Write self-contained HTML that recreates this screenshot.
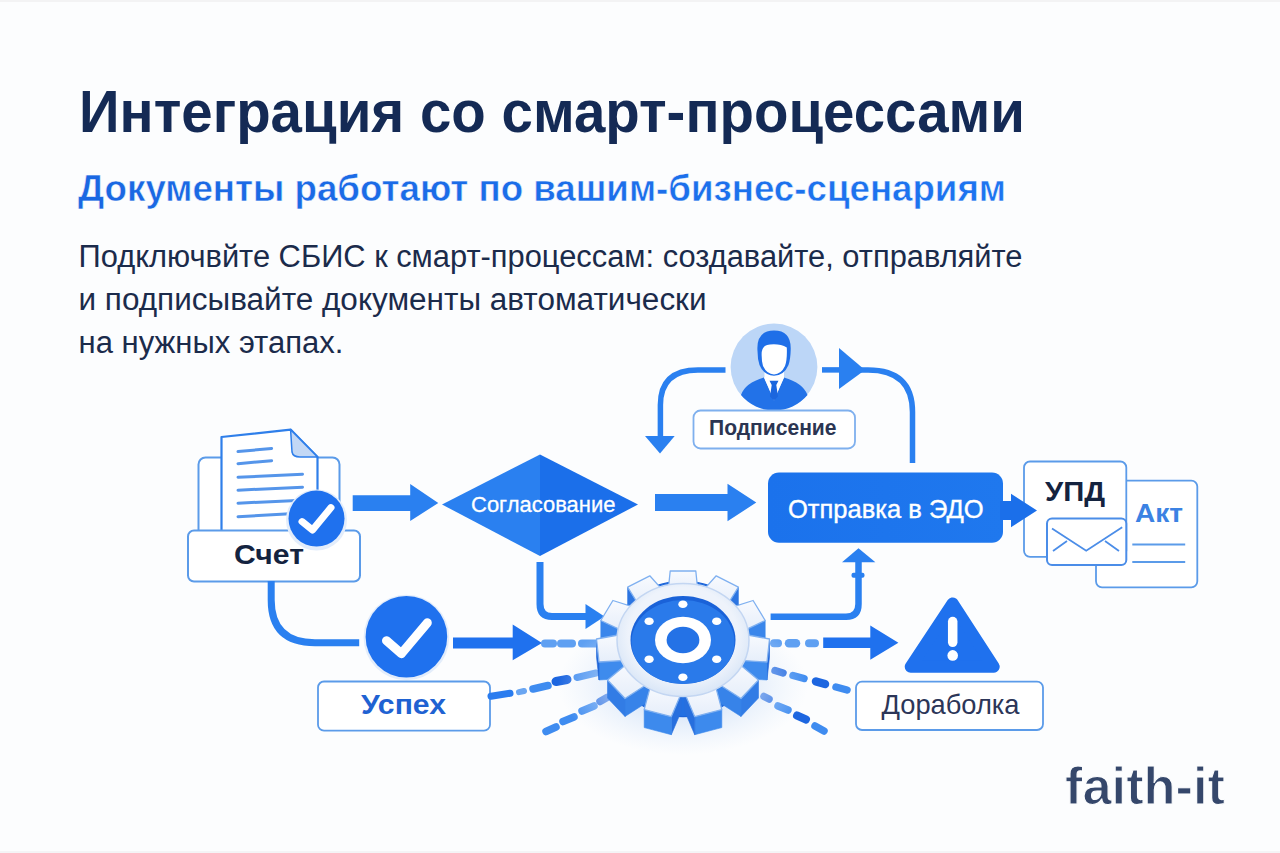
<!DOCTYPE html>
<html><head><meta charset="utf-8"><style>
html,body{margin:0;padding:0;background:#fcfdfe;}
svg{display:block;font-family:"Liberation Sans",sans-serif;}
</style></head><body>
<svg width="1280" height="853" viewBox="0 0 1280 853">
<rect width="1280" height="853" fill="#fcfdfe"/>
<rect width="1280" height="2" fill="#f3f3f4"/>
<rect y="851" width="1280" height="2" fill="#f4f4f6"/>
<defs>
<radialGradient id="glow" cx="50%" cy="50%" r="50%"><stop offset="0" stop-color="#c4d9f7" stop-opacity="1"/><stop offset="0.5" stop-color="#d6e5f9" stop-opacity="0.7"/><stop offset="1" stop-color="#e3edfb" stop-opacity="0"/></radialGradient>
<linearGradient id="sub" x1="0" x2="1"><stop offset="0" stop-color="#1a67e2"/><stop offset="1" stop-color="#1d74f0"/></linearGradient>
<linearGradient id="tooth" x1="0" y1="0" x2="0" y2="1"><stop offset="0" stop-color="#f8fafe"/><stop offset="1" stop-color="#e6eefa"/></linearGradient>
<radialGradient id="ring" cx="50%" cy="45%" r="55%"><stop offset="0.75" stop-color="#eef3fb"/><stop offset="1" stop-color="#d9e6f7"/></radialGradient>
<linearGradient id="edo" x1="0" x2="1"><stop offset="0" stop-color="#1b72ec"/><stop offset="1" stop-color="#1f78ee"/></linearGradient>
<filter id="sh" x="-30%" y="-30%" width="160%" height="160%"><feGaussianBlur stdDeviation="2.5"/></filter>
</defs>
<text x="79" y="131.7" font-size="59" font-weight="700" fill="#142a55" textLength="946" lengthAdjust="spacingAndGlyphs">Интеграция со смарт-процессами</text>
<text x="78" y="201.4" font-size="37" font-weight="700" fill="url(#sub)" stroke="#fcfdfe" stroke-width="0.5" textLength="928" lengthAdjust="spacingAndGlyphs">Документы работают по вашим-бизнес-сценариям</text>
<text x="78.5" y="266.8" font-size="31" fill="#1b2b4b" textLength="944" lengthAdjust="spacingAndGlyphs">Подключвйте СБИС к смарт-процессам: создавайте, отправляйте</text>
<text x="78.5" y="310" font-size="31" fill="#1b2b4b" textLength="628" lengthAdjust="spacingAndGlyphs">и подписывайте документы автоматически</text>
<text x="78.5" y="353.2" font-size="31" fill="#1b2b4b" textLength="265" lengthAdjust="spacingAndGlyphs">на нужных этапах.</text>
<rect x="198.5" y="457.5" width="141" height="90" rx="7" fill="#fff" stroke="#5b9be9" stroke-width="2"/>
<path d="M221.5 437 L290.6 429.6 L317.5 456.9 L317.5 535 L221.5 535 Z" fill="#fff" stroke="#2f7fea" stroke-width="2.2" stroke-linejoin="round"/>
<path d="M290.6 429.6 L292 452 Q293 457 300 457 L317.5 456.9 Z" fill="#c3d8f5" stroke="#2f7fea" stroke-width="1.5" stroke-linejoin="round"/>
<line x1="238" y1="451.5" x2="271.6" y2="448.5" stroke="#5595ea" stroke-width="3" stroke-linecap="round"/>
<line x1="238" y1="463.7" x2="271.6" y2="460.7" stroke="#5595ea" stroke-width="3" stroke-linecap="round"/>
<line x1="238" y1="477.3" x2="302.5" y2="474.3" stroke="#5595ea" stroke-width="3" stroke-linecap="round"/>
<line x1="238" y1="490.2" x2="302.5" y2="487.2" stroke="#5595ea" stroke-width="3" stroke-linecap="round"/>
<line x1="238" y1="503.2" x2="302.5" y2="500.2" stroke="#5595ea" stroke-width="3" stroke-linecap="round"/>
<line x1="238" y1="516.7" x2="290" y2="513.7" stroke="#5595ea" stroke-width="3" stroke-linecap="round"/>
<rect x="188" y="530.5" width="172" height="51" rx="6" fill="#fff" stroke="#5b9be9" stroke-width="2"/>
<text x="234" y="564.4" font-size="28" font-weight="700" fill="#14233f" textLength="70" lengthAdjust="spacingAndGlyphs">Счет</text>
<circle cx="316.5" cy="520" r="30.5" fill="#e3edfb"/>
<circle cx="316.5" cy="518.6" r="28" fill="#1f71ee"/>
<path d="M302 521.6 L312.5 530 L331 507.6" fill="none" stroke="#fff" stroke-width="7" stroke-linecap="round" stroke-linejoin="round"/>
<path d="M352.7 495.2 L410.2 495.2 L410.2 483.9 L438.3 503 L410.2 521 L410.2 510.9 L352.7 510.9 Z" fill="#2a80f0"/>
<path d="M442 504.5 L540 454.5 L540 556 Z" fill="#2a80f0"/>
<path d="M540 454.5 L638 504.5 L540 556 Z" fill="#1b6fea"/>
<text x="471" y="511.8" font-size="22" font-weight="400" fill="#fff" stroke="#fff" stroke-width="0.3" textLength="144.5" lengthAdjust="spacingAndGlyphs">Согласование</text>
<path d="M655 494 L727.5 494 L727.5 483.7 L756.3 502.5 L727.5 521.3 L727.5 511 L655 511 Z" fill="#2a80f0"/>
<rect x="768" y="472.5" width="235" height="70.3" rx="11" fill="url(#edo)"/>
<text x="788" y="518" font-size="26" fill="#fff" stroke="#fff" stroke-width="0.4" textLength="195.5" lengthAdjust="spacingAndGlyphs">Отправка в ЭДО</text>
<circle cx="774" cy="367" r="43.4" fill="#bcd6f7"/>
<rect x="764.5" y="369" width="19.5" height="12" fill="#fff"/>
<path d="M741 395 Q745 383 764 377.5 L774 400 L784 377.5 Q803 383 807.5 395 A43.4 43.4 0 0 1 741 395 Z" fill="#2272e8"/>
<path d="M764 377.5 L774 400.5 L784 377.5 L781 376 L774 381 L767 376 Z" fill="#fff"/>
<path d="M769.5 380.7 L778.5 380.7 L776.3 385 L778 396.5 L774 400.5 L770 396.5 L771.7 385 Z" fill="#1b66de"/>
<path d="M757.5 351 Q756 330.6 774 330.6 Q791.5 330.6 790.7 350 Q790.5 359 788.5 365 Q784 375.5 774 375.8 Q764 375.5 759.5 365 Q757.5 359 757.5 351 Z" fill="#1f6fe8"/>
<path d="M761.7 352 Q763 344.5 770 344.5 Q780 343.5 786.8 347.5 Q787.3 360 785 366 Q781 374.4 774 374.4 Q767 374.4 763 366 Q761.3 360 761.7 352 Z" fill="#fff"/>
<path d="M725.5 369.9 L698 369.9 Q660.4 369.9 660.4 405 L660.4 438" fill="none" stroke="#2a80f0" stroke-width="5.5"/>
<path d="M645 436 L674.7 436 L660 453.6 Z" fill="#2a80f0"/>
<path d="M822 369.9 L845 369.9" stroke="#2a80f0" stroke-width="5.5"/>
<path d="M839 348 L865 369.9 L839 389 Z" fill="#2a80f0"/>
<path d="M860 369.9 L868 369.9 Q912.5 369.9 912.5 412 L912.5 463" fill="none" stroke="#2a80f0" stroke-width="5.5"/>
<rect x="693.5" y="410.5" width="161.5" height="38" rx="7" fill="#fff" stroke="#7fb0ee" stroke-width="1.8"/>
<text x="709" y="435.3" font-size="22" font-weight="700" fill="#2b3552" textLength="127.5" lengthAdjust="spacingAndGlyphs">Подписение</text>
<rect x="1096" y="480.6" width="101.3" height="106.7" rx="6" fill="#fff" stroke="#5b9be9" stroke-width="1.8"/>
<text x="1135" y="522.3" font-size="26" font-weight="700" fill="#3b82e3" textLength="48" lengthAdjust="spacingAndGlyphs">Акт</text>
<line x1="1132.3" y1="544.6" x2="1185.2" y2="544.6" stroke="#5b9be9" stroke-width="2"/>
<line x1="1132.3" y1="561.9" x2="1185.2" y2="561.9" stroke="#5b9be9" stroke-width="2"/>
<rect x="1024" y="461.5" width="102.3" height="95.3" rx="6" fill="#fff" stroke="#5b9be9" stroke-width="1.8"/>
<text x="1045" y="501" font-size="28" font-weight="700" fill="#14233f" textLength="60" lengthAdjust="spacingAndGlyphs">УПД</text>
<rect x="1047" y="518.5" width="79.3" height="46.5" rx="5" fill="#fff" stroke="#4b8de8" stroke-width="2"/>
<path d="M1052 528.4 L1086.2 550.7 L1122.2 527.3" fill="none" stroke="#4b8de8" stroke-width="1.8"/>
<path d="M1053 551 L1067 541 M1105 541 L1119 551" fill="none" stroke="#4b8de8" stroke-width="1.8"/>
<path d="M1000 501 L1011 501 L1011 493.8 L1037 510.5 L1011 527.3 L1011 520 L1000 520 Z" fill="#1b6fea"/>
<path d="M271.2 581 L271.2 600 Q271.2 642.7 315 642.7 L359.2 642.7" fill="none" stroke="#2a80f0" stroke-width="7"/>
<circle cx="406.4" cy="637.5" r="42.8" fill="#e3edfb"/>
<circle cx="406.4" cy="636.7" r="40.8" fill="#1f71ee"/>
<path d="M386.5 640.7 L401.4 653.7 L427.3 622.8" fill="none" stroke="#fff" stroke-width="9" stroke-linecap="round" stroke-linejoin="round"/>
<path d="M453 637.5 L512.7 637.5 L512.7 624.4 L542 643 L512.7 660.2 L512.7 648.5 L453 648.5 Z" fill="#1f71ee"/>
<rect x="318" y="681.5" width="172" height="49.2" rx="6" fill="#fff" stroke="#5b9be9" stroke-width="1.8"/>
<text x="361" y="714.4" font-size="28" font-weight="700" fill="#1f62d2" textLength="85" lengthAdjust="spacingAndGlyphs">Успех</text>
<line x1="545" y1="643.6" x2="553" y2="643.6" stroke="#5fa0f2" stroke-width="8" stroke-linecap="round"/>
<line x1="561" y1="643.6" x2="572" y2="643.6" stroke="#5fa0f2" stroke-width="8" stroke-linecap="round"/>
<line x1="582" y1="643.6" x2="600" y2="643.6" stroke="#5fa0f2" stroke-width="8" stroke-linecap="round"/>
<line x1="491" y1="696.2" x2="510" y2="693.3" stroke="#2a7cef" stroke-width="7" stroke-linecap="round"/>
<line x1="519" y1="692.2" x2="524" y2="691" stroke="#6aa6f2" stroke-width="6" stroke-linecap="round"/>
<line x1="533" y1="689" x2="548" y2="685.5" stroke="#3f8cf0" stroke-width="7.5" stroke-linecap="round"/>
<line x1="556" y1="681.5" x2="567" y2="679.5" stroke="#1d66e0" stroke-width="9" stroke-linecap="round"/>
<line x1="577" y1="677.5" x2="596" y2="673" stroke="#3f8cf0" stroke-width="7" stroke-linecap="round"/>
<line x1="546" y1="731.5" x2="556" y2="727" stroke="#3f8cf0" stroke-width="7.5" stroke-linecap="round"/>
<line x1="563" y1="721.5" x2="574" y2="717" stroke="#3f8cf0" stroke-width="7.5" stroke-linecap="round"/>
<line x1="582" y1="711" x2="594" y2="706" stroke="#3f8cf0" stroke-width="7.5" stroke-linecap="round"/>
<line x1="600" y1="701.5" x2="607" y2="697.5" stroke="#1d66e0" stroke-width="7.5" stroke-linecap="round"/>
<line x1="774" y1="643.2" x2="778" y2="643.2" stroke="#5fa0f2" stroke-width="8" stroke-linecap="round"/>
<line x1="789" y1="643.2" x2="796" y2="643.2" stroke="#5fa0f2" stroke-width="8.5" stroke-linecap="round"/>
<line x1="809" y1="643.2" x2="815" y2="643.2" stroke="#5fa0f2" stroke-width="8" stroke-linecap="round"/>
<line x1="775" y1="670.5" x2="783" y2="673" stroke="#1d66e0" stroke-width="7.5" stroke-linecap="round"/>
<line x1="793" y1="675.5" x2="804" y2="678.5" stroke="#3f8cf0" stroke-width="7.5" stroke-linecap="round"/>
<line x1="816" y1="681.5" x2="825" y2="684" stroke="#1d66e0" stroke-width="8.5" stroke-linecap="round"/>
<line x1="836" y1="687" x2="847" y2="690" stroke="#3f8cf0" stroke-width="7.5" stroke-linecap="round"/>
<line x1="764" y1="696.5" x2="769" y2="699" stroke="#1d66e0" stroke-width="7.5" stroke-linecap="round"/>
<line x1="778" y1="706" x2="788" y2="710" stroke="#3f8cf0" stroke-width="7.5" stroke-linecap="round"/>
<line x1="797" y1="715.5" x2="806" y2="719.5" stroke="#1d66e0" stroke-width="8" stroke-linecap="round"/>
<line x1="815" y1="726" x2="824" y2="731" stroke="#3f8cf0" stroke-width="7.5" stroke-linecap="round"/>
<path d="M540 562 L540 604 Q540 616.5 552 616.5 L590 616.5" fill="none" stroke="#2a80f0" stroke-width="7"/>
<path d="M585.5 604 L604.5 616.5 L585.5 629 Z" fill="#2a80f0"/>
<ellipse cx="683" cy="685" rx="125" ry="70" fill="url(#glow)"/>
<path d="M614 640 A69 58.6 0 0 1 752 640 L752 658 A69 58.6 0 0 1 614 658 Z" fill="#2370e2" stroke="#1b63d8" stroke-width="1.2"/>
<polygon points="698.0,592.4 668.0,592.4 668.0,610.4 698.0,610.4" fill="#3f8cee" stroke="#3f8cee" stroke-width="0.6"/>
<polygon points="738.4,587.2 726.3,606.5 726.3,624.5 738.4,605.2" fill="#2c75e1" stroke="#2c75e1" stroke-width="0.6"/>
<polygon points="726.3,606.5 700.7,593.1 700.7,611.1 726.3,624.5" fill="#3985ea" stroke="#3985ea" stroke-width="0.6"/>
<polygon points="639.7,606.5 627.6,587.2 627.6,605.2 639.7,624.5" fill="#2c75e1" stroke="#2c75e1" stroke-width="0.6"/>
<polygon points="665.3,593.1 639.7,606.5 639.7,624.5 665.3,611.1" fill="#3985ea" stroke="#3985ea" stroke-width="0.6"/>
<polygon points="765.2,620.5 741.8,631.6 741.8,649.6 765.2,638.5" fill="#3a86eb" stroke="#3a86eb" stroke-width="0.6"/>
<polygon points="741.8,631.6 728.3,608.3 728.3,626.3 741.8,649.6" fill="#2972df" stroke="#2972df" stroke-width="0.6"/>
<polygon points="624.2,631.6 600.8,620.5 600.8,638.5 624.2,649.6" fill="#3a86eb" stroke="#3a86eb" stroke-width="0.6"/>
<polygon points="637.7,608.3 624.2,631.6 624.2,649.6 637.7,626.3" fill="#2972df" stroke="#2972df" stroke-width="0.6"/>
<polygon points="769.5,639.0 767.0,662.0 767.0,680.0 769.5,657.0" fill="#2066d9" stroke="#2066d9" stroke-width="0.6"/>
<polygon points="767.0,662.0 739.0,660.3 739.0,678.3 767.0,680.0" fill="#3e8bed" stroke="#3e8bed" stroke-width="0.6"/>
<polygon points="627.0,660.3 599.0,662.0 599.0,680.0 627.0,678.3" fill="#3e8bed" stroke="#3e8bed" stroke-width="0.6"/>
<polygon points="599.0,662.0 596.5,639.0 596.5,657.0 599.0,680.0" fill="#2066d9" stroke="#2066d9" stroke-width="0.6"/>
<polygon points="758.5,680.0 741.0,698.5 741.0,716.5 758.5,698.0" fill="#327ce5" stroke="#327ce5" stroke-width="0.6"/>
<polygon points="741.0,698.5 717.7,683.5 717.7,701.5 741.0,716.5" fill="#3783e9" stroke="#3783e9" stroke-width="0.6"/>
<polygon points="648.3,683.5 625.0,698.5 625.0,716.5 648.3,701.5" fill="#3783e9" stroke="#3783e9" stroke-width="0.6"/>
<polygon points="625.0,698.5 607.5,680.0 607.5,698.0 625.0,716.5" fill="#327ce5" stroke="#327ce5" stroke-width="0.6"/>
<polygon points="721.8,709.6 694.7,716.7 694.7,734.7 721.8,727.6" fill="#3d8aed" stroke="#3d8aed" stroke-width="0.6"/>
<polygon points="694.7,716.7 684.5,692.8 684.5,710.8 694.7,734.7" fill="#276fde" stroke="#276fde" stroke-width="0.6"/>
<polygon points="681.5,692.8 671.3,716.7 671.3,734.7 681.5,710.8" fill="#276fde" stroke="#276fde" stroke-width="0.6"/>
<polygon points="671.3,716.7 644.2,709.6 644.2,727.6 671.3,734.7" fill="#3d8aed" stroke="#3d8aed" stroke-width="0.6"/>
<polygon points="668.0,592.4 670.2,571.0 695.8,571.0 698.0,592.4" fill="url(#tooth)" stroke="#7fb0f0" stroke-width="1.3" stroke-linejoin="round"/>
<polygon points="700.7,593.1 716.2,575.8 738.4,587.2 726.3,606.5" fill="url(#tooth)" stroke="#7fb0f0" stroke-width="1.3" stroke-linejoin="round"/>
<polygon points="728.3,608.3 753.1,600.5 765.2,620.5 741.8,631.6" fill="url(#tooth)" stroke="#7fb0f0" stroke-width="1.3" stroke-linejoin="round"/>
<polygon points="742.4,634.0 769.5,639.0 767.0,662.0 739.0,660.3" fill="url(#tooth)" stroke="#7fb0f0" stroke-width="1.3" stroke-linejoin="round"/>
<polygon points="737.8,662.7 758.5,680.0 741.0,698.5 717.7,683.5" fill="url(#tooth)" stroke="#7fb0f0" stroke-width="1.3" stroke-linejoin="round"/>
<polygon points="715.2,684.9 721.8,709.6 694.7,716.7 684.5,692.8" fill="url(#tooth)" stroke="#7fb0f0" stroke-width="1.3" stroke-linejoin="round"/>
<polygon points="681.5,692.8 671.3,716.7 644.2,709.6 650.8,684.9" fill="url(#tooth)" stroke="#7fb0f0" stroke-width="1.3" stroke-linejoin="round"/>
<polygon points="648.3,683.5 625.0,698.5 607.5,680.0 628.2,662.7" fill="url(#tooth)" stroke="#7fb0f0" stroke-width="1.3" stroke-linejoin="round"/>
<polygon points="627.0,660.3 599.0,662.0 596.5,639.0 623.6,634.0" fill="url(#tooth)" stroke="#7fb0f0" stroke-width="1.3" stroke-linejoin="round"/>
<polygon points="624.2,631.6 600.8,620.5 612.9,600.5 637.7,608.3" fill="url(#tooth)" stroke="#7fb0f0" stroke-width="1.3" stroke-linejoin="round"/>
<polygon points="639.7,606.5 627.6,587.2 649.8,575.8 665.3,593.1" fill="url(#tooth)" stroke="#7fb0f0" stroke-width="1.3" stroke-linejoin="round"/>
<ellipse cx="683" cy="640" rx="66" ry="56.5" fill="url(#ring)" stroke="#c3d6f2" stroke-width="1.5"/>
<ellipse cx="683" cy="640" rx="52.5" ry="44" fill="#1a62d8"/>
<ellipse cx="683" cy="642" rx="51.5" ry="42" fill="#2a7aea"/>
<ellipse cx="683" cy="640" rx="28" ry="23.2" fill="#ffffff"/>
<ellipse cx="683" cy="640" rx="16.4" ry="13.2" fill="#2472e6"/>
<ellipse cx="682.9" cy="604.3" rx="4.6" ry="3.8" fill="#ffffff"/>
<ellipse cx="649.1" cy="621.2" rx="4.6" ry="3.8" fill="#ffffff"/>
<ellipse cx="716.7" cy="621.2" rx="4.6" ry="3.8" fill="#ffffff"/>
<ellipse cx="649.1" cy="659.2" rx="4.6" ry="3.8" fill="#ffffff"/>
<ellipse cx="716.7" cy="659.2" rx="4.6" ry="3.8" fill="#ffffff"/>
<ellipse cx="682.9" cy="677.2" rx="4.6" ry="3.8" fill="#ffffff"/>
<path d="M770.6 616.8 L846 616.8 Q858.5 616.8 858.5 604 L858.5 562" fill="none" stroke="#2a80f0" stroke-width="6.5"/>
<rect x="851.5" y="572.8" width="13" height="5" rx="2" fill="#2a80f0"/>
<path d="M842 562.3 L875.4 562.3 L858.5 548.2 Z" fill="#2a80f0"/>
<path d="M823.2 637.5 L870.3 637.5 L870.3 625.6 L898.4 642.7 L870.3 659.7 L870.3 648 L823.2 648 Z" fill="#1f71ee"/>
<path d="M952.7 603.4 L993.7 666.8 L910.7 666.8 Z" fill="#1f71ee" stroke="#1f71ee" stroke-width="12" stroke-linejoin="round"/>
<path d="M952.7 621.6 L952.7 642.3" stroke="#fff" stroke-width="9.5" stroke-linecap="round"/>
<circle cx="952.7" cy="655.4" r="5.3" fill="#fff"/>
<rect x="856" y="681.6" width="187" height="48.4" rx="6" fill="#fff" stroke="#5b9be9" stroke-width="1.8"/>
<text x="881.5" y="714" font-size="27.5" fill="#2c3658" textLength="138" lengthAdjust="spacingAndGlyphs">Дораболка</text>
<text x="1065" y="803.7" font-size="52" font-weight="700" fill="#35476b" stroke="#fcfdfe" stroke-width="1.1" textLength="160" lengthAdjust="spacingAndGlyphs">faith-it</text>
</svg></body></html>
